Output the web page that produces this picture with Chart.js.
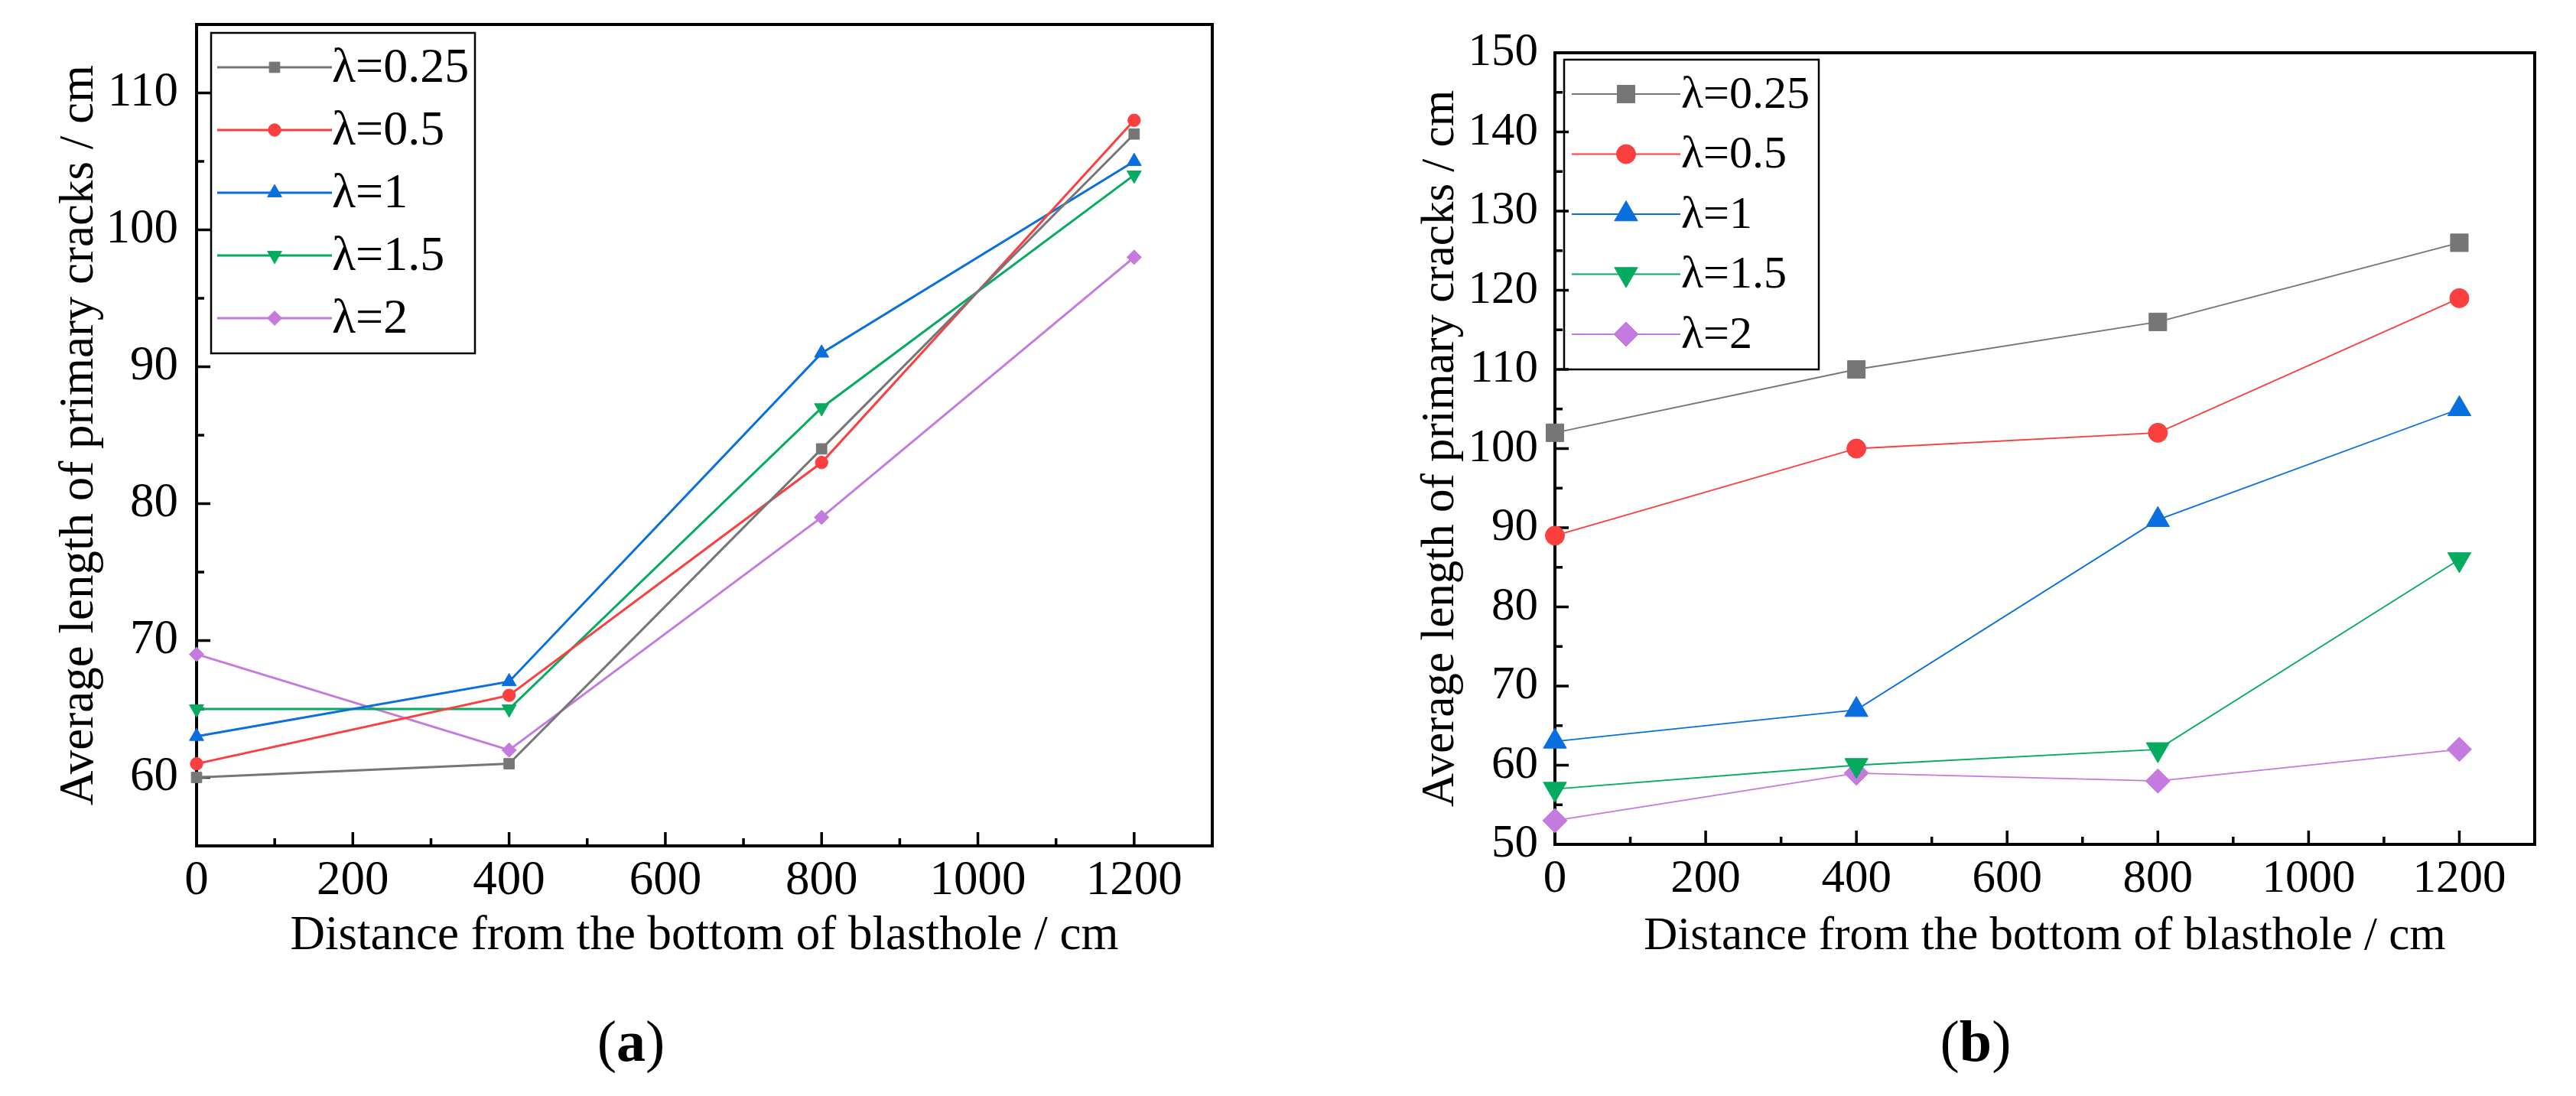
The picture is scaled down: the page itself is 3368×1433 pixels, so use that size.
<!DOCTYPE html>
<html>
<head>
<meta charset="utf-8">
<title>Average length of primary cracks</title>
<script src="https://cdn.jsdelivr.net/npm/chart.js@4.4.1/dist/chart.umd.min.js"></script>
<style>
  html, body { margin: 0; padding: 0; background: #fff; }
  body { width: 3368px; height: 1433px; position: relative; overflow: hidden;
         font-family: 'Liberation Serif', serif; }
  .panel { position: absolute; top: 0; width: 1684px; height: 1433px; }
  .tag { position: absolute; top: 1323px; font-size: 76px; line-height: 1;
         transform: translateX(-50%); color: #000; white-space: nowrap; }
</style>
</head>
<body>
<div class="panel" style="left:0"><canvas id="chartA" width="1684" height="1433"></canvas></div>
<div class="panel" style="left:1684px"><canvas id="chartB" width="1684" height="1433"></canvas></div>
<div class="tag" style="left:825px">(<b>a</b>)</div>
<div class="tag" style="left:2583px">(<b>b</b>)</div>

<script>
// distance from the bottom of the blasthole (cm)
var distances = [0, 400, 800, 1200];
var seriesNames = ['λ=0.25', 'λ=0.5', 'λ=1', 'λ=1.5', 'λ=2'];

// panel (a)
var a_l025 = [60, 61, 84, 107];
var a_l05  = [61, 66, 83, 108];
var a_l1   = [63, 67, 91, 105];
var a_l15  = [65, 65, 87, 104];
var a_l2   = [69, 62, 79, 98];

// panel (b)
var b_l025 = [102, 110, 116, 126];
var b_l05  = [89, 100, 102, 119];
var b_l1   = [63, 67, 91, 105];
var b_l15  = [57, 60, 62, 86];
var b_l2   = [53, 59, 58, 62];

// tick labels
var xTicks  = [0, 200, 400, 600, 800, 1000, 1200];
var yTicksA = [60, 70, 80, 90, 100, 110];
var yTicksB = [50, 60, 70, 80, 90, 100, 110, 120, 130, 140, 150];

var colors = ['#767676', '#fb3f3f', '#0a6fde', '#05ab5f', '#c47ade'];
var pointStyles = ['rect', 'circle', 'triangle', 'triangle', 'rectRot'];
var pointRotations = [0, 0, 0, 180, 0];

var FONT = "'Liberation Serif', serif";
Chart.defaults.font.family = FONT;

// plot frame with inward major / minor ticks
var framePlugin = {
    id: 'frame',
    beforeDatasetsDraw: function (chart, args, o) {
        var ctx = chart.ctx, a = chart.chartArea;
        var xs = chart.scales.x, ys = chart.scales.y;
        ctx.save();
        ctx.strokeStyle = '#000';
        ctx.lineWidth = o.lineWidth;
        ctx.strokeRect(a.left, a.top, a.right - a.left, a.bottom - a.top);

        ctx.lineWidth = o.tickWidth;
        ctx.beginPath();
        var xv = xs.ticks.map(function (t) { return t.value; });
        var yv = ys.ticks.map(function (t) { return t.value; });
        xv.forEach(function (v, i) {
            var p = xs.getPixelForValue(v);
            ctx.moveTo(p, a.bottom); ctx.lineTo(p, a.bottom - o.major);
            if (i < xv.length - 1) {
                var m = xs.getPixelForValue((v + xv[i + 1]) / 2);
                ctx.moveTo(m, a.bottom); ctx.lineTo(m, a.bottom - o.minor);
            }
        });
        yv.forEach(function (v, i) {
            var p = ys.getPixelForValue(v);
            ctx.moveTo(a.left, p); ctx.lineTo(a.left + o.major, p);
            if (i < yv.length - 1) {
                var m = ys.getPixelForValue((v + yv[i + 1]) / 2);
                ctx.moveTo(a.left, m); ctx.lineTo(a.left + o.minor, m);
            }
        });
        ctx.stroke();
        ctx.restore();
    }
};

// Origin style legend: line sample with marker, text, boxed
var legendPlugin = {
    id: 'boxLegend',
    afterDatasetsDraw: function (chart, args, o) {
        var ctx = chart.ctx, a = chart.chartArea;
        var bx = a.left + o.dx, by = a.top + o.dy;
        ctx.save();
        ctx.strokeStyle = '#000';
        ctx.lineWidth = o.borderWidth;
        ctx.strokeRect(bx, by, o.width, o.height);
        ctx.font = o.fontSize + 'px ' + FONT;
        ctx.textBaseline = 'middle';
        ctx.textAlign = 'left';
        chart.data.datasets.forEach(function (ds, i) {
            var y = by + o.firstRow + i * o.rowGap;
            var x0 = bx + o.sampleX, x1 = x0 + o.sampleLen;
            ctx.strokeStyle = ds.borderColor;
            ctx.lineWidth = ds.borderWidth;
            ctx.beginPath(); ctx.moveTo(x0, y); ctx.lineTo(x1, y); ctx.stroke();
            ctx.fillStyle = ds.backgroundColor;
            ctx.lineWidth = 1;
            Chart.helpers.drawPoint(ctx, {
                pointStyle: ds.pointStyle, radius: ds.pointRadius,
                rotation: ds.pointRotation || 0, borderWidth: 1
            }, (x0 + x1) / 2, y);
            ctx.fillStyle = '#000';
            ctx.fillText(ds.label, x1 + o.textGap, y + o.textDy);
        });
        ctx.restore();
    }
};

function buildDatasets(series, lineWidth, radii) {
    return series.map(function (vals, i) {
        return {
            label: seriesNames[i],
            data: distances.map(function (d, k) { return { x: d, y: vals[k] }; }),
            borderColor: colors[i],
            backgroundColor: colors[i],
            borderWidth: lineWidth,
            pointStyle: pointStyles[i],
            pointRotation: pointRotations[i],
            pointRadius: radii[i],
            pointHoverRadius: radii[i],
            pointBorderWidth: 1,
            tension: 0,
            clip: false
        };
    });
}

// the plot area is placed by the layout padding and fixed axis sizes,
// so drop the extra room Chart.js keeps for half tick labels
function noLabelPadding(s) {
    s.paddingTop = 0; s.paddingBottom = 0; s.paddingLeft = 0; s.paddingRight = 0;
}

function makeChart(id, series, yTicks, c) {
    new Chart(document.getElementById(id), {
        type: 'line',
        data: { datasets: buildDatasets(series, c.lineWidth, c.radii) },
        options: {
            responsive: false,
            animation: false,
            devicePixelRatio: 1,
            layout: { padding: { left: 0, top: c.top, right: c.right, bottom: 0 } },
            plugins: {
                legend: { display: false },
                tooltip: { enabled: false },
                frame: { lineWidth: 4, tickWidth: 3.5, major: 18, minor: 10 },
                boxLegend: c.legend
            },
            scales: {
                x: {
                    type: 'linear', min: 0, max: 1300,
                    grid: { display: false, drawTicks: false },
                    border: { display: false },
                    afterBuildTicks: function (s) { s.ticks = xTicks.map(function (v) { return { value: v }; }); },
                    afterFit: function (s) { s.height = c.xHeight; noLabelPadding(s); },
                    ticks: {
                        autoSkip: false, maxRotation: 0, color: '#000', padding: c.xTickPad,
                        font: { family: FONT, size: c.tickSize },
                        callback: function (v) { return String(v); }
                    },
                    title: {
                        display: true, text: 'Distance from the bottom of blasthole / cm', color: '#000',
                        font: { family: FONT, size: c.titleSize, lineHeight: 1 },
                        padding: { top: 0, bottom: c.xTitlePad }
                    }
                },
                y: {
                    type: 'linear', min: c.yMin, max: c.yMax,
                    grid: { display: false, drawTicks: false },
                    border: { display: false },
                    afterBuildTicks: function (s) { s.ticks = yTicks.map(function (v) { return { value: v }; }); },
                    afterFit: function (s) { s.width = c.yWidth; noLabelPadding(s); },
                    ticks: {
                        autoSkip: false, color: '#000', padding: c.yTickPad,
                        font: { family: FONT, size: c.tickSize },
                        callback: function (v) { return String(v); }
                    },
                    title: {
                        display: true, text: 'Average length of primary cracks / cm', color: '#000',
                        font: { family: FONT, size: c.titleSize, lineHeight: 1 },
                        padding: { top: c.yTitlePad, bottom: 0 }
                    }
                }
            }
        },
        plugins: [framePlugin, legendPlugin]
    });
}

function drawAll() {
    makeChart('chartA', [a_l025, a_l05, a_l1, a_l15, a_l2], yTicksA, {
        yMin: 55, yMax: 115,
        top: 32, right: 99, yWidth: 257, xHeight: 327,
        tickSize: 63, titleSize: 63, xTickPad: 9, yTickPad: 24,
        xTitlePad: 177, yTitlePad: 73,
        lineWidth: 3, radii: [9.7, 8.2, 10.8, 10.8, 9.5],
        legend: { dx: 19, dy: 11, width: 345, height: 419, borderWidth: 2.5,
                  firstRow: 45, rowGap: 82, sampleX: 8, sampleLen: 150, textGap: 0, textDy: 2, fontSize: 64 }
    });

    makeChart('chartB', [b_l025, b_l05, b_l1, b_l15, b_l2], yTicksB, {
        yMin: 50, yMax: 150,
        top: 69, right: 54, yWidth: 349, xHeight: 329,
        tickSize: 61, titleSize: 61, xTickPad: 9, yTickPad: 22,
        xTitlePad: 178, yTitlePad: 169,
        lineWidth: 1.8, radii: [16.3, 12.5, 17.5, 17.5, 16],
        legend: { dx: 12, dy: 9, width: 333, height: 405, borderWidth: 2.5,
                  firstRow: 45, rowGap: 78.5, sampleX: 10, sampleLen: 142, textGap: 1, textDy: 2, fontSize: 60 }
    });
}

// make sure the serif face is ready before the canvases use it
document.fonts.load("64px 'Liberation Serif'", 'λ=0.25').then(drawAll, drawAll);
</script>
</body>
</html>
